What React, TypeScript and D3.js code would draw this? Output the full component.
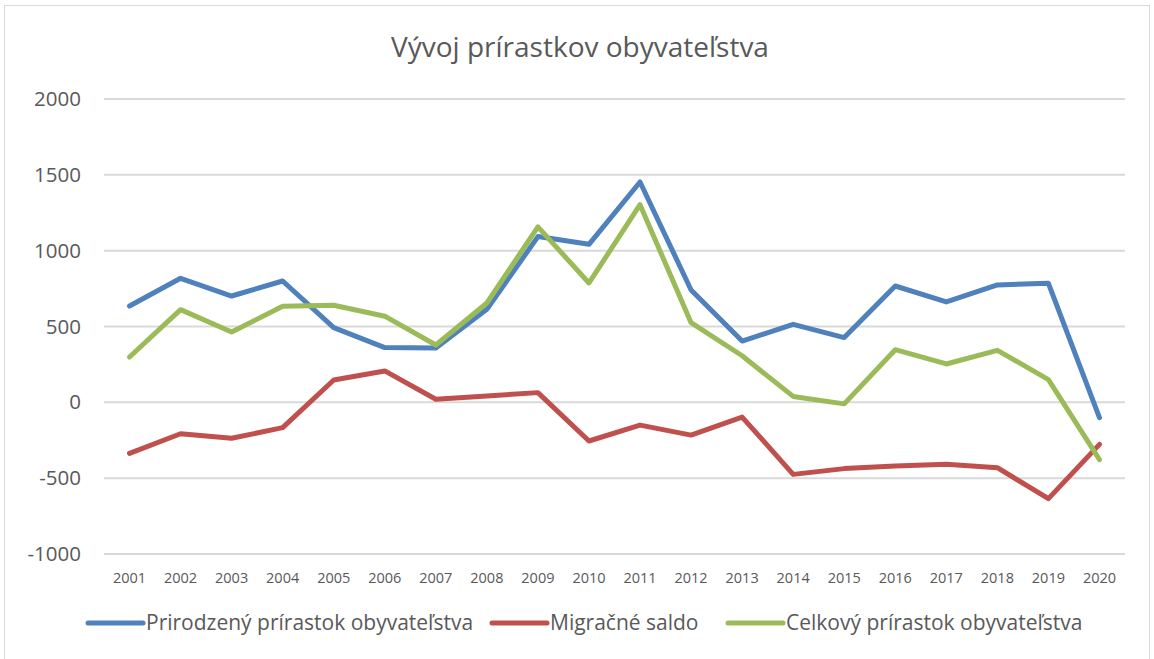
import React from "react";
import * as d3 from "d3";

const years = ["2001","2002","2003","2004","2005","2006","2007","2008","2009","2010","2011","2012","2013","2014","2015","2016","2017","2018","2019","2020"];
const prirodzeny = [635, 818, 701, 800, 493, 361, 358, 613, 1093, 1042, 1453, 741, 404, 514, 427, 767, 662, 774, 785, -101];
const migracne = [-336, -207, -237, -167, 147, 207, 20, 42, 64, -255, -150, -216, -97, -475, -437, -420, -409, -431, -635, -277];
const celkovy = [299, 611, 464, 633, 640, 568, 378, 655, 1157, 787, 1303, 525, 307, 39, -10, 347, 253, 343, 150, -378];
const yTicks = [-1000, -500, 0, 500, 1000, 1500, 2000];

const seriesNames = ["Prirodzený prírastok obyvateľstva", "Migračné saldo", "Celkový prírastok obyvateľstva"];
const seriesColors = ["#4F81BD", "#C0504D", "#9BBB59"];
const seriesData = [prirodzeny, migracne, celkovy];

const W = 1154;
const H = 659;
const plot = { left: 104, right: 1125, top: 99, bottom: 554 };
const font = "'Open Sans', 'Noto Sans', sans-serif";
const textColor = "#595959";

export default function App() {
  const x = d3.scaleBand<string>().domain(years).range([plot.left, plot.right]);
  const y = d3.scaleLinear().domain([-1000, 2000]).range([plot.bottom, plot.top]);
  const line = d3
    .line<number>()
    .x((_, i) => (x(years[i]) as number) + x.bandwidth() / 2)
    .y((d) => y(d));

  const legendX = [88, 492, 728];

  return (
    <div style={{ position: "absolute", left: 0, top: 0 }}>
      <svg width={W} height={H} style={{ display: "block", background: "#fff" }}>
        <rect x={4.5} y={5.5} width={1145} height={H + 10} fill="#fff" stroke="#D9D9D9" strokeWidth={1} />
        <text x={580} y={57} textAnchor="middle" fontFamily={font} fontSize={28} fill={textColor}>
          Vývoj prírastkov obyvateľstva
        </text>
        {yTicks.map((t) => (
          <g key={t}>
            <line x1={plot.left} x2={plot.right} y1={y(t)} y2={y(t)} stroke="#D9D9D9" strokeWidth={2} />
            <text x={81} y={y(t) + 7} textAnchor="end" fontFamily={font} fontSize={20.5} fill={textColor}>
              {t}
            </text>
          </g>
        ))}
        {years.map((yr) => (
          <text
            key={yr}
            x={(x(yr) as number) + x.bandwidth() / 2}
            y={583}
            textAnchor="middle"
            fontFamily={font}
            fontSize={14.5}
            fill={textColor}
          >
            {yr}
          </text>
        ))}
        {seriesData.map((s, i) => (
          <path
            key={i}
            d={line(s) as string}
            fill="none"
            stroke={seriesColors[i]}
            strokeWidth={5}
            strokeLinejoin="round"
            strokeLinecap="round"
          />
        ))}
        {seriesNames.map((n, i) => (
          <g key={n}>
            <line
              x1={legendX[i]}
              x2={legendX[i] + 55}
              y1={623}
              y2={623}
              stroke={seriesColors[i]}
              strokeWidth={5}
              strokeLinecap="round"
            />
            <text x={legendX[i] + 58} y={630} fontFamily={font} fontSize={21} fill={textColor}>
              {n}
            </text>
          </g>
        ))}
      </svg>
    </div>
  );
}
